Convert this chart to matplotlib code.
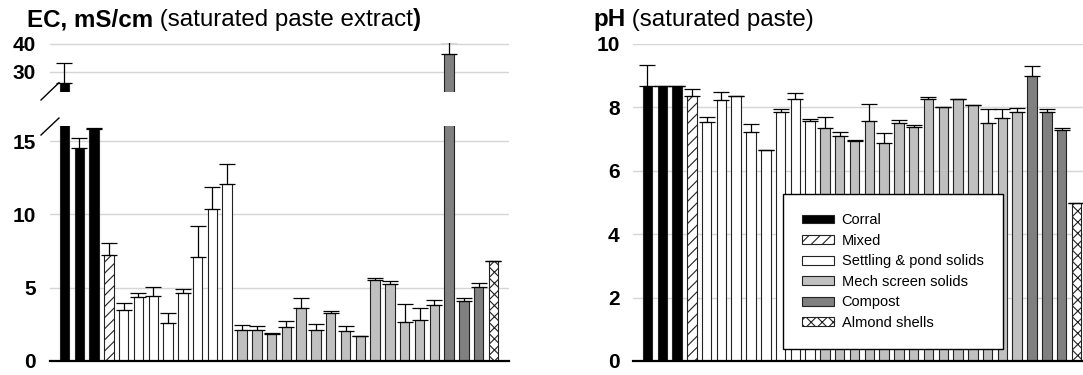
import matplotlib
matplotlib.use("Agg")
import matplotlib.pyplot as plt
import numpy as np
from matplotlib.lines import Line2D

plt.rcParams['font.family'] = ['Liberation Sans', 'DejaVu Sans']
plt.rcParams['hatch.linewidth'] = 0.8

# sample groups, in bar order
group_names = ['Corral', 'Mixed', 'Settling & pond solids', 'Mech screen solids', 'Compost', 'Almond shells']
group_counts = [3, 1, 8, 14, 3, 1]
group_colors = ['black', 'white', 'white', '#c0c0c0', '#808080', 'white']
group_hatch = [None, '///', None, None, None, 'xxx']

# EC, mS/cm (saturated paste extract)
ec_mean = [25.9, 14.5, 15.8,
           7.2,
           3.48, 4.34, 4.46, 2.57, 4.64, 7.07, 10.37, 12.07,
           2.11, 2.11, 1.84, 2.32, 3.62, 2.14, 3.27, 2.07, 1.73, 5.53, 5.25, 2.68, 2.82, 3.84,
           36.2, 4.12, 5.05,
           6.82]
ec_err = [7.2, 0.7, 0.1,
          0.82,
          0.50, 0.28, 0.61, 0.73, 0.27, 2.16, 1.48, 1.37,
          0.35, 0.28, 0.09, 0.39, 0.70, 0.41, 0.16, 0.29, 0.0, 0.11, 0.18, 1.18, 0.80, 0.32,
          4.5, 0.20, 0.25,
          0.0]

# pH (saturated paste)
ph_mean = [8.68, 8.68, 8.68,
           8.34,
           7.54, 8.23, 8.34, 7.21, 6.64, 7.86, 8.25, 7.56,
           7.35, 7.09, 6.93, 7.56, 6.87, 7.49, 7.39, 8.26, 8.01, 8.26, 8.06, 7.50, 7.67, 7.86,
           8.99, 7.86, 7.27,
           4.98]
ph_err = [0.64, 0.0, 0.0,
          0.24,
          0.15, 0.26, 0.02, 0.25, 0.02, 0.07, 0.20, 0.07,
          0.35, 0.13, 0.02, 0.53, 0.30, 0.11, 0.04, 0.07, 0.0, 0.01, 0.01, 0.43, 0.27, 0.10,
          0.32, 0.09, 0.08,
          0.0]

ec_ticks_low = [0, 5, 10, 15]
ec_ticks_high = [30, 40]
ph_ticks = [0, 2, 4, 6, 8, 10]

W, H = 1083, 375
fig = plt.figure(figsize=(W / 100, H / 100), dpi=100)


def px_axes(x0, x1, ytop, ybot):
    return fig.add_axes([x0 / W, 1 - ybot / H, (x1 - x0) / W, (ybot - ytop) / H])


def draw_bars(ax, mean, err, label=False):
    mean = np.array(mean)
    err = np.array(err)
    x = np.arange(len(mean))
    start = 0
    for name, n, c, h in zip(group_names, group_counts, group_colors, group_hatch):
        sl = slice(start, start + n)
        ax.bar(x[sl], mean[sl], width=0.64, color=c, hatch=h, edgecolor='#222222',
               linewidth=0.8, label=name if label else None, zorder=2)
        start += n
    ax.errorbar(x, mean, yerr=[np.zeros_like(err), err], fmt='none', ecolor='black',
                elinewidth=0.9, capsize=5.5, capthick=0.9, zorder=3)


def style(ax, ticks, ylim, pad, bottom=True):
    ax.set_ylim(*ylim)
    ax.set_yticks(ticks)
    ax.set_xticks([])
    ax.grid(axis='y', color='#d6d6d6', linewidth=1.0, zorder=0)
    ax.set_axisbelow(True)
    for s in ['left', 'right', 'top']:
        ax.spines[s].set_visible(False)
    if bottom:
        ax.spines['bottom'].set_linewidth(1.6)
        ax.spines['bottom'].set_color('black')
    else:
        ax.spines['bottom'].set_visible(False)
    ax.tick_params(axis='y', length=0, pad=pad, labelsize=15)
    for t in ax.get_yticklabels():
        t.set_fontweight('bold')


# left chart: broken y axis
ax_lo = px_axes(50, 509, 126.4, 361)
ax_hi = px_axes(50, 509, 43.4, 91.7)
for ax, ticks, ylim, bot in [(ax_lo, ec_ticks_low, (0, 16.0), True),
                             (ax_hi, ec_ticks_high, (22.9, 40.1), False)]:
    draw_bars(ax, ec_mean, ec_err)
    ax.set_xlim(-0.98, 30.05)
    style(ax, ticks, ylim, 10, bot)

# break marks
for y0, y1 in [(100, 82.7), (135, 118)]:
    fig.add_artist(Line2D([41 / W, 59 / W], [1 - y0 / H, 1 - y1 / H],
                          transform=fig.transFigure, color='black', linewidth=1.0))

# right chart
ax_ph = px_axes(632.7, 1083, 43.7, 361)
draw_bars(ax_ph, ph_mean, ph_err, label=True)
ax_ph.set_xlim(-1.0, 29.45)
style(ax_ph, ph_ticks, (0, 10), 9.5)
ax_ph.legend(loc='lower left', bbox_to_anchor=(0.333, 0.038), borderaxespad=0,
             fontsize=10.5, frameon=True, fancybox=False, edgecolor='black',
             framealpha=1, borderpad=1.3, labelspacing=0.45, handlelength=2.2,
             handleheight=0.55, handletextpad=0.55)


# titles: bold part + normal part
def title(x, parts):
    t = fig.text(x / W, 1 - 31 / H, parts[0][0], fontsize=17.4, fontweight=parts[0][1],
                 va='bottom', ha='left')
    for txt, wt in parts[1:]:
        t = ax_ph.annotate(txt, xy=(1, 0), xycoords=t, va='bottom', ha='left',
                           fontsize=17.4, fontweight=wt, annotation_clip=False)


title(27, [('EC, mS/cm', 'bold'), (' (saturated paste extract', 'normal'), (')', 'bold')])
title(593, [('pH', 'bold'), (' (saturated paste)', 'normal')])

fig.savefig('out.png', dpi=100)
